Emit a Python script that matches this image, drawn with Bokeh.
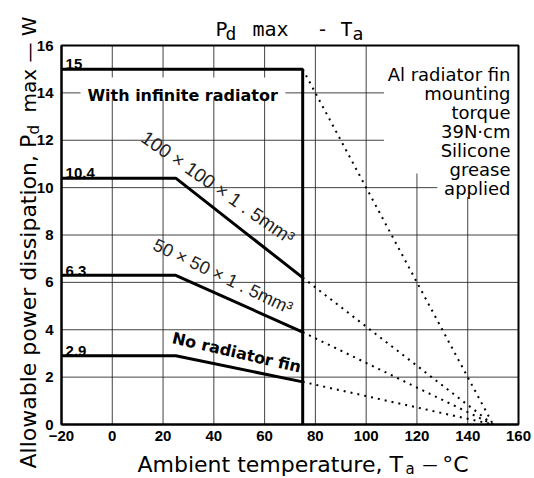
import math
from bokeh.plotting import figure
from bokeh.models import Range1d, Label, FixedTicker
from bokeh.embed import file_html
from bokeh.resources import INLINE

# ---------------- data ----------------
ta_knee = [-20, 25, 75]           # Ta break points (degC)
ta_inf = [-20, 25, 75, 75]        # infinite radiator
pd_inf = [15, 15, 15, 0]
pd_100 = [10.4, 10.4, 6.2]        # 100x100x1.5 mm3 fin
pd_50 = [6.3, 6.3, 3.9]           # 50x50x1.5 mm3 fin
pd_none = [2.9, 2.9, 1.8]         # no radiator fin
ta_end = 75
ta_zero = 150                     # dotted extrapolations reach 0 W here
level_labels = ["15", "10.4", "6.3", "2.9"]
level_values = [15, 10.4, 6.3, 2.9]
x_ticks = [-20, 0, 20, 40, 60, 80, 100, 120, 140, 160]
y_ticks = [0, 2, 4, 6, 8, 10, 12, 14, 16]
note_lines = ["Al radiator fin", "mounting", "torque", "39N·cm", "Silicone", "grease", "applied"]

# ---------------- geometry (page pixels of the plot box) ----------------
W, H = 534, 478
BOX_L, BOX_R, BOX_T, BOX_B = 61, 518, 45, 424
XMIN, XMAX, YMIN, YMAX = x_ticks[0], x_ticks[-1], y_ticks[0], y_ticks[-1]
kx = (BOX_R - BOX_L) / (XMAX - XMIN)
ky = (BOX_B - BOX_T) / (YMAX - YMIN)
x_range = Range1d(XMIN - BOX_L / kx, XMAX + (W - BOX_R) / kx)
y_range = Range1d(YMIN - (H - BOX_B) / ky, YMAX + BOX_T / ky)

p = figure(width=W, height=H, output_backend="svg", toolbar_location=None,
           x_range=x_range, y_range=y_range,
           min_border=0, min_border_left=0, min_border_right=0,
           min_border_top=0, min_border_bottom=0)
p.background_fill_color = "white"
p.border_fill_color = "white"
p.outline_line_color = None
p.grid.visible = False

p.xaxis.fixed_location = YMIN
p.yaxis.fixed_location = XMIN
p.xaxis.bounds = (XMIN, XMAX)
p.yaxis.bounds = (YMIN, YMAX)
for ax, ticks in ((p.xaxis, x_ticks), (p.yaxis, y_ticks)):
    ax.ticker = FixedTicker(ticks=ticks)
    ax.major_tick_out = 0
    ax.major_tick_in = 0
    ax.minor_tick_line_color = None
    ax.axis_line_width = 2
    ax.axis_line_color = "black"
    ax.major_label_text_font = "Liberation Sans"
    ax.major_label_text_font_style = "bold"
    ax.major_label_text_font_size = "15px"
    ax.major_label_text_color = "black"
p.xaxis.major_label_standoff = 6
p.yaxis.major_label_standoff = 8

# grid lines drawn from the tick lists
vx = x_ticks[1:-1]
p.segment(x0=vx, y0=[YMIN] * len(vx), x1=vx, y1=[YMAX] * len(vx),
          line_color="#222222", line_width=1, line_alpha=0.85)
hy = y_ticks[1:-1]
p.segment(x0=[XMIN] * len(hy), y0=hy, x1=[XMAX] * len(hy), y1=hy,
          line_color="#222222", line_width=1, line_alpha=0.85)

# white panels behind the texts
p.quad(left=[-12.5], right=[68.2], bottom=[13.72], top=[14.65], fill_color="white", line_color=None)
p.quad(left=[107, 128], right=[XMAX, XMAX], bottom=[10.6, 9.6], top=[YMAX, 10.6],
       fill_color="white", line_color=None)

# plot box
p.quad(left=[XMIN], right=[XMAX], bottom=[YMIN], top=[YMAX], fill_color=None,
       line_color="black", line_width=2)

# curves
p.line(ta_inf, pd_inf, line_color="black", line_width=3)
for ys in (pd_100, pd_50, pd_none):
    p.line(ta_knee, ys, line_color="black", line_width=3)

# dotted extrapolations to Pd = 0
for y_end in (pd_inf[2], pd_100[-1], pd_50[-1], pd_none[-1]):
    p.line([ta_end, ta_zero], [y_end, 0], line_color="black", line_width=2, line_dash="2 5")


def lab(text, x, y, size, font="DejaVu Sans", style="normal", units="data",
        align="left", baseline="alphabetic", angle=0.0, color="black"):
    kw = {}
    if units == "screen":
        kw = dict(x_units="screen", y_units="screen")
        y = H - y      # given as page pixel from the top
    l = Label(x=x, y=y, text=text, text_font=font, text_font_style=style,
              text_font_size=f"{size}px", text_align=align, text_baseline=baseline,
              angle=angle, text_color=color, **kw)
    p.add_layout(l)


# level labels
for t, v in zip(level_labels, level_values):
    lab(t, -18.4, v + 0.2, 15, font="Liberation Sans", style="bold")

# curve labels
lab("With infinite radiator", -9.8, 13.9, 16, style="bold")
lab("100 × 100 × 1 . 5mm³", 41.6, 10.0, 19, font="Liberation Sans", align="center",
    baseline="middle", angle=-math.radians(35), color="#222222")
lab("50 × 50 × 1 . 5mm³", 43.6, 6.25, 18, font="Liberation Sans", align="center",
    baseline="middle", angle=-math.radians(25.5), color="#222222")
lab("No radiator fin", 49.0, 3.04, 16, style="bold", align="center", baseline="middle",
    angle=-math.radians(13))

# note block
note_base = [74, 93, 112, 131, 150, 169, 188]
for t, b in zip(note_lines, note_base):
    lab(t, 510, b, 18, units="screen", align="right")

# title  Pd max - Ta
lab("P", 215, 28, 20, font="DejaVu Sans Mono", units="screen")
lab("d", 225, 33, 18, font="DejaVu Sans Mono", units="screen")
lab("max", 252, 28, 20, font="DejaVu Sans Mono", units="screen")
lab("-", 316, 28, 20, font="DejaVu Sans Mono", units="screen")
lab("T", 340, 28, 20, font="DejaVu Sans Mono", units="screen")
lab("a", 352, 33, 18, font="DejaVu Sans Mono", units="screen")

# x axis label
lab("Ambient temperature, T", 137, 464, 22, units="screen")
lab("a", 405, 468, 15, units="screen")
lab("—", 422, 464, 15, units="screen")
lab("°C", 468, 464, 22, units="screen", align="right")

# y axis label (rotated)
lab("Allowable power dissipation, P", 28, 468, 22, units="screen", angle=math.pi / 2)
lab("d", 33, 134, 15, units="screen", angle=math.pi / 2)
lab("max — W", 28, 112, 20, units="screen", angle=math.pi / 2)

open("out.html", "w").write(file_html(p, INLINE))
